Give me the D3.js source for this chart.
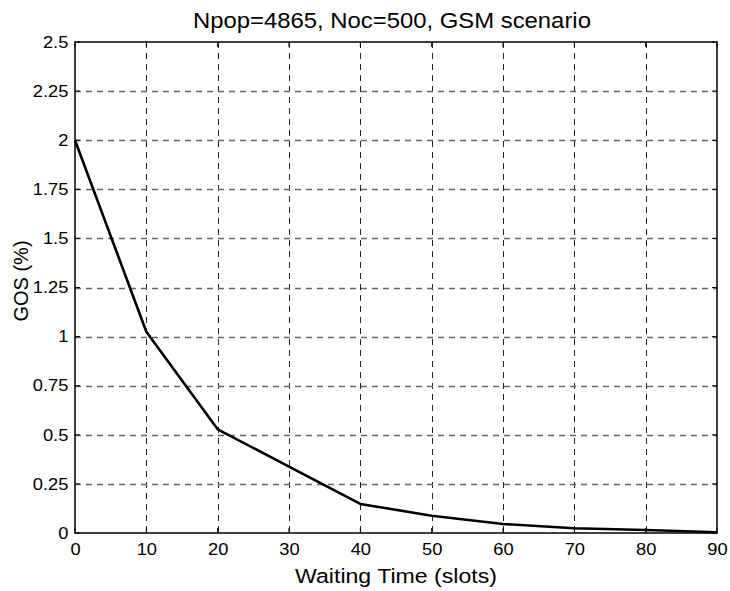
<!DOCTYPE html>
<html>
<head>
<meta charset="utf-8">
<script src="https://cdn.jsdelivr.net/npm/d3@7"></script>
<style>
  body { margin: 0; background: #fff; }
  svg { display: block; font-family: "Liberation Sans", Arial, sans-serif; }
</style>
</head>
<body>
<div id="chart"></div>
<script>
// data
const waitSlots = [0, 10, 20, 30, 40, 50, 60, 70, 80, 90];
const gosPct = [2.0, 1.025, 0.528, 0.338, 0.148, 0.088, 0.046, 0.024, 0.015, 0.004];
const xTicks = [0, 10, 20, 30, 40, 50, 60, 70, 80, 90];
const yTicks = [0, 0.25, 0.5, 0.75, 1, 1.25, 1.5, 1.75, 2, 2.25, 2.5];

const W = 730, H = 591;
const margin = { top: 42, right: 13, bottom: 58, left: 75 };
const width = W - margin.left - margin.right;
const height = H - margin.top - margin.bottom;
const stretch = 1.11; // the source glyphs are a little wider than tall

const svg = d3.select("#chart").append("svg")
    .attr("width", W)
    .attr("height", H);

const g = svg.append("g")
    .attr("transform", `translate(${margin.left},${margin.top})`);

// scales
const x = d3.scaleLinear().domain([0, 90]).range([0, width]);
const y = d3.scaleLinear().domain([0, 2.5]).range([height, 0]);

// grid
g.append("g").selectAll("line")
    .data(xTicks.slice(1, -1))
    .join("line")
    .attr("x1", d => Math.round(x(d)) + 0.5)
    .attr("x2", d => Math.round(x(d)) + 0.5)
    .attr("y1", 0)
    .attr("y2", height)
    .attr("stroke", "#222")
    .attr("stroke-dasharray", "6,5");

g.append("g").selectAll("line")
    .data(yTicks.slice(1, -1))
    .join("line")
    .attr("x1", 0)
    .attr("x2", width)
    .attr("y1", d => Math.round(y(d)) + 0.5)
    .attr("y2", d => Math.round(y(d)) + 0.5)
    .attr("stroke", "#666")
    .attr("stroke-width", 1.3)
    .attr("stroke-dasharray", "6,5");

// axes
const xAxis = g.append("g")
    .attr("transform", `translate(0,${height})`)
    .call(d3.axisBottom(x).tickValues(xTicks).tickSize(0).tickPadding(10));
const yAxis = g.append("g")
    .call(d3.axisLeft(y).tickValues(yTicks).tickSize(0).tickPadding(6)
        .tickFormat(d => d3.format("")(d)));

[xAxis, yAxis].forEach(a => {
    a.select(".domain").remove();
    a.selectAll("text")
        .attr("fill", "#000")
        .attr("transform", `scale(${stretch},1)`)
        .style("font-size", "16.5px")
        .style("font-family", "Liberation Sans, Arial, sans-serif");
});

// tick marks inside box (MATLAB style)
const tickLen = 5;
xTicks.forEach(t => {
    g.append("line").attr("x1", x(t)).attr("x2", x(t)).attr("y1", height).attr("y2", height - tickLen).attr("stroke", "#000");
    g.append("line").attr("x1", x(t)).attr("x2", x(t)).attr("y1", 0).attr("y2", tickLen).attr("stroke", "#000");
});
yTicks.forEach(t => {
    g.append("line").attr("x1", 0).attr("x2", tickLen).attr("y1", y(t)).attr("y2", y(t)).attr("stroke", "#000");
    g.append("line").attr("x1", width).attr("x2", width - tickLen).attr("y1", y(t)).attr("y2", y(t)).attr("stroke", "#000");
});

// box
g.append("rect")
    .attr("x", 0)
    .attr("y", 0)
    .attr("width", width)
    .attr("height", height)
    .attr("fill", "none")
    .attr("stroke", "#000")
    .attr("stroke-width", 1.5);

// line
const line = d3.line()
    .x((d, i) => x(waitSlots[i]))
    .y(d => y(d));

g.append("path")
    .datum(gosPct)
    .attr("fill", "none")
    .attr("stroke", "#000")
    .attr("stroke-width", 2.6)
    .attr("stroke-linejoin", "round")
    .attr("d", line);

// title & labels
svg.append("text")
    .attr("transform", `translate(${margin.left + width / 2 - 4},28) scale(${stretch},1)`)
    .attr("text-anchor", "middle")
    .style("font-size", "21.5px")
    .text("Npop=4865, Noc=500, GSM scenario");

svg.append("text")
    .attr("transform", `translate(${margin.left + width / 2},583) scale(1.1,1)`)
    .attr("text-anchor", "middle")
    .style("font-size", "21px")
    .text("Waiting Time (slots)");

svg.append("text")
    .attr("transform", `translate(28,281) rotate(-90)`)
    .attr("text-anchor", "middle")
    .style("font-size", "20px")
    .text("GOS (%)");
</script>
</body>
</html>
